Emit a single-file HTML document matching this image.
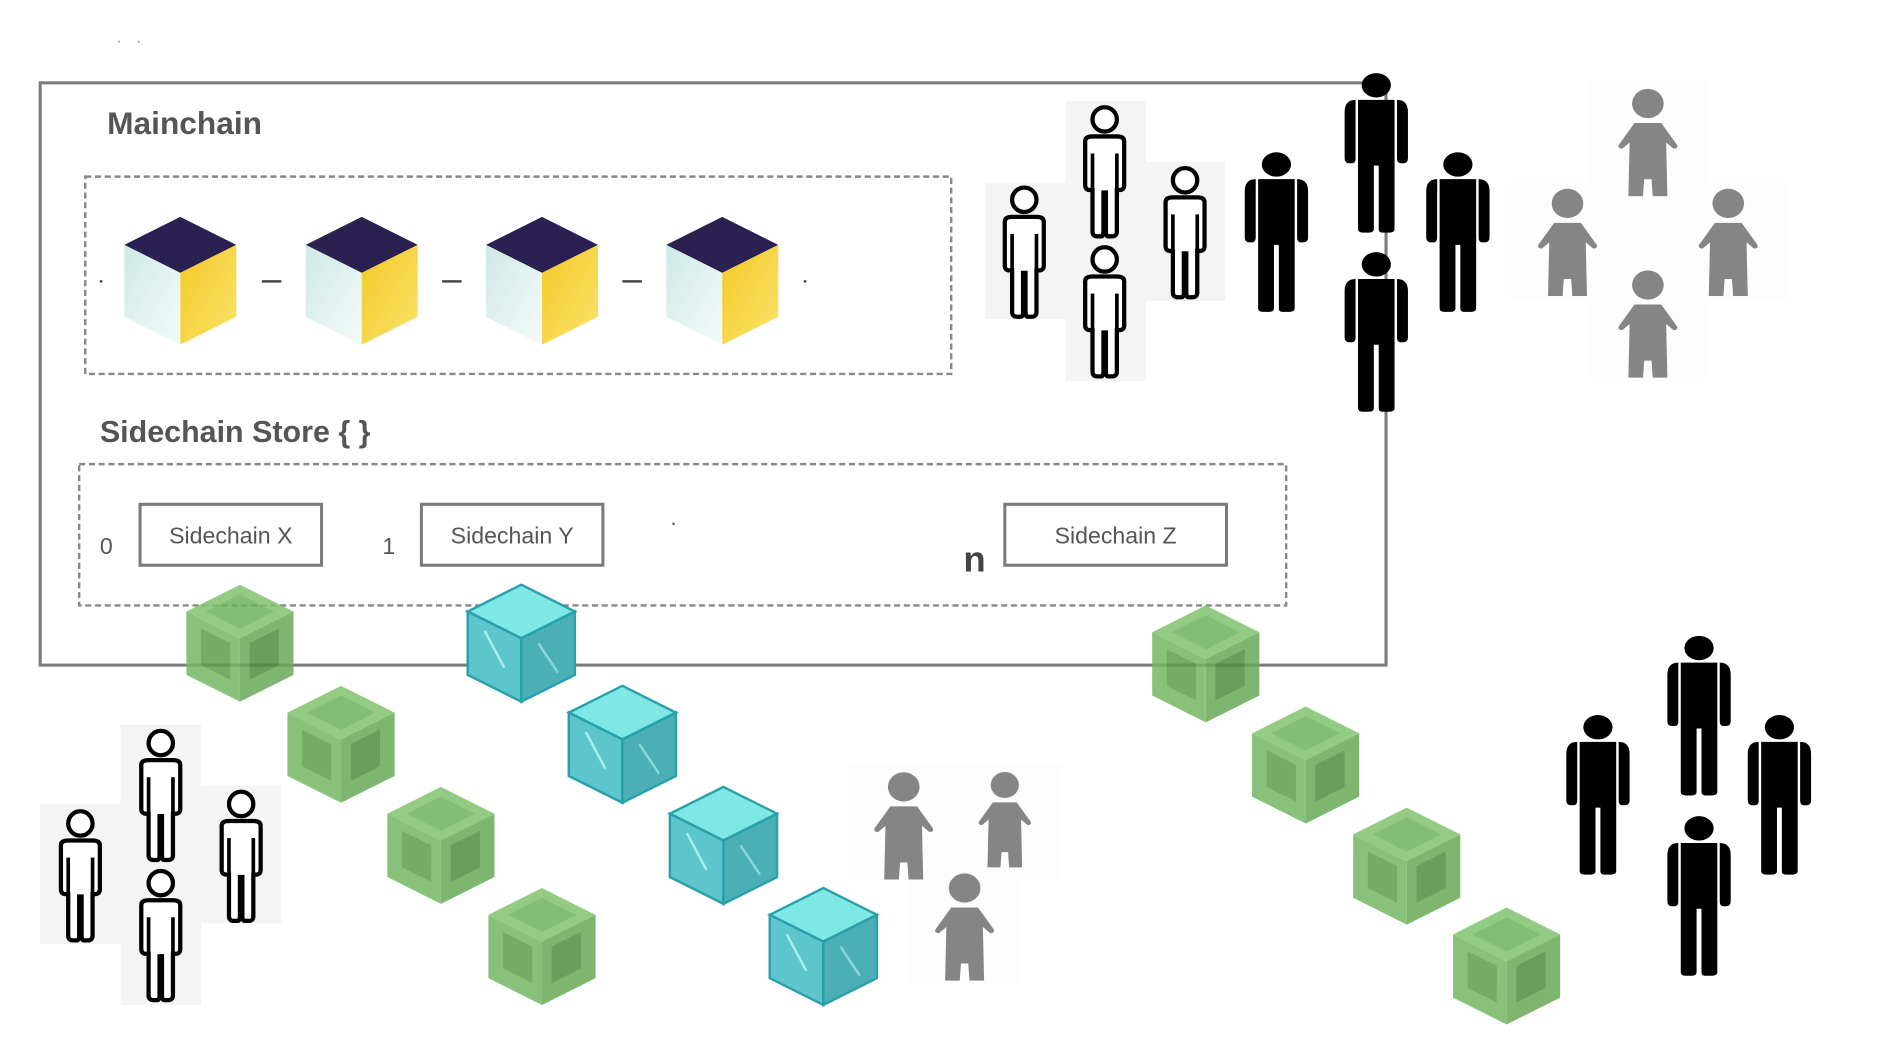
<!DOCTYPE html>
<html><head><meta charset="utf-8"><style>
html,body{margin:0;padding:0;background:#fff;width:1900px;height:1061px;overflow:hidden}
svg{display:block}
text{font-family:"Liberation Sans",sans-serif}
</style></head><body>
<svg width="1900" height="1061" viewBox="0 0 1560 871" preserveAspectRatio="none" xmlns="http://www.w3.org/2000/svg">
<defs>
<linearGradient id="mint" x1="0" y1="0" x2="1" y2="1"><stop offset="0" stop-color="#cfe9e6"/><stop offset="1" stop-color="#f4fbfa"/></linearGradient>
<linearGradient id="yel" x1="0" y1="0" x2="1" y2="1"><stop offset="0" stop-color="#f2c928"/><stop offset="1" stop-color="#fbe36a"/></linearGradient>
<symbol id="mcube" viewBox="-46 -52 92 105" overflow="visible">
<polygon points="0,-52 46,-29 0,-6 -46,-29" fill="#2b2150"/>
<polygon points="-46,-29 0,-6 0,53 -46,30" fill="url(#mint)"/>
<polygon points="46,-29 0,-6 0,53 46,30" fill="url(#yel)"/>
</symbol>
<symbol id="gcube" viewBox="-44 -48 88 96" overflow="visible">
<g opacity="0.85">
<polygon points="0,-48 44,-26 0,-4 -44,-26" fill="#80c46f"/>
<polygon points="0,-40 28,-26 0,-12 -28,-26" fill="#6db35c"/>
<polygon points="-44,-26 0,-4 0,48 -44,26" fill="#74b863"/>
<polygon points="-32,-12 -8,0 -8,30 -32,18" fill="#5d9e4c"/>
<polygon points="44,-26 0,-4 0,48 44,26" fill="#68a957"/>
<polygon points="32,-12 8,0 8,30 32,18" fill="#4f8f41"/>
</g>
</symbol>
<symbol id="dcube" viewBox="-44 -48 88 96" overflow="visible">
<polygon points="0,-48 44,-26 0,-4 -44,-26" fill="#7fe8e6" stroke="#2aa0a8" stroke-width="2"/>
<polygon points="-44,-26 0,-4 0,48 -44,26" fill="#5cc6cc" stroke="#2aa0a8" stroke-width="2"/>
<polygon points="44,-26 0,-4 0,48 44,26" fill="#4ab0b6" stroke="#2aa0a8" stroke-width="2"/>
<line x1="-30" y1="-10" x2="-14" y2="20" stroke="#a9eeee" stroke-width="2"/>
<line x1="14" y1="0" x2="30" y2="24" stroke="#8ad6da" stroke-width="2"/>
</symbol>
<symbol id="bman" viewBox="0 0 56 130" overflow="visible">
<ellipse cx="28" cy="10" rx="12" ry="10" fill="#000"/>
<path d="M13 22 L43 22 L43 128 Q43 131 38 131 L33 131 Q30 131 30 128 L30 76 L26 76 L26 128 Q26 131 22 131 L17 131 Q13 131 13 128 Z" fill="#000"/>
<path d="M11 22 Q2 22 2 32 L2 70 Q2 74 6 74 L8 74 Q11 74 11 70 Z" fill="#000"/>
<path d="M45 22 Q54 22 54 32 L54 70 Q54 74 50 74 L48 74 Q45 74 45 70 Z" fill="#000"/>
</symbol>
<symbol id="oman" viewBox="0 0 48 110" overflow="visible">
<circle cx="24" cy="12" r="10" fill="#fff" stroke="#000" stroke-width="3.5"/>
<path d="M8 30 Q8 26 14 26 L34 26 Q40 26 40 30 L40 66 Q40 70 36 70 L34 70 L34 104 Q34 108 30 108 L27 108 Q25 108 25 104 L25 72 L23 72 L23 104 Q23 108 21 108 L18 108 Q14 108 14 104 L14 70 L12 70 Q8 70 8 66 Z" fill="#fff" stroke="#000" stroke-width="3.5"/>
<line x1="14" y1="40" x2="14" y2="70" stroke="#000" stroke-width="3"/>
<line x1="34" y1="40" x2="34" y2="70" stroke="#000" stroke-width="3"/>
</symbol>
<symbol id="gman" viewBox="0 0 50 90" overflow="visible">
<ellipse cx="25" cy="14" rx="13" ry="12" fill="#858585"/>
<path d="M14 30 L36 30 L49 48 Q50 51 46 51 L40 46 L41 90 L29 90 L28 76 L22 76 L21 90 L9 90 L10 46 L4 51 Q0 51 1 48 Z" fill="#858585"/>
</symbol>
</defs>

<text x="96" y="35" font-size="14" fill="#999">.</text><text x="112" y="35" font-size="14" fill="#999">.</text>

<rect x="809" y="150" width="66" height="112" fill="#f4f4f4"/>
<rect x="875" y="83" width="66" height="230" fill="#f4f4f4"/>
<rect x="940" y="133" width="66" height="114" fill="#f4f4f4"/>
<rect x="33" y="660" width="66" height="115" fill="#f4f4f4"/>
<rect x="99" y="595" width="66" height="230" fill="#f4f4f4"/>
<rect x="165" y="645" width="66" height="113" fill="#f4f4f4"/>
<rect x="1240" y="150" width="228" height="96" fill="#fdfdfd"/>
<rect x="1305" y="66" width="98" height="244" fill="#fdfdfd"/>
<rect x="697" y="628" width="175" height="95" fill="#fdfdfd"/>
<rect x="745" y="715" width="92" height="92" fill="#fdfdfd"/>

<rect x="33" y="68" width="1105" height="478" fill="none" stroke="#7a7a7a" stroke-width="2.5"/>
<text x="88" y="110" font-size="26" font-weight="bold" fill="#555">Mainchain</text>
<rect x="70" y="145" width="711" height="162" fill="none" stroke="#888" stroke-width="2" stroke-dasharray="5,3"/>
<use href="#mcube" x="102" y="178" width="92" height="105"/>
<use href="#mcube" x="251" y="178" width="92" height="105"/>
<use href="#mcube" x="399" y="178" width="92" height="105"/>
<use href="#mcube" x="547" y="178" width="92" height="105"/>
<g fill="#444"><rect x="215" y="230" width="16" height="2"/><rect x="363" y="230" width="16" height="2"/><rect x="511" y="230" width="16" height="2"/><rect x="82" y="230" width="2" height="2"/><rect x="660" y="230" width="2" height="2"/></g>

<text x="82" y="363" font-size="25" font-weight="bold" fill="#555">Sidechain Store { }</text>
<rect x="65" y="381" width="991" height="116" fill="none" stroke="#888" stroke-width="2" stroke-dasharray="5,3"/>
<text x="82" y="455" font-size="19" fill="#555">0</text>
<rect x="115" y="414" width="149" height="50" fill="#fff" stroke="#7a7a7a" stroke-width="2.5"/>
<text x="189.5" y="446" font-size="19" fill="#555" text-anchor="middle">Sidechain X</text>
<text x="314" y="455" font-size="19" fill="#555">1</text>
<rect x="346" y="414" width="149" height="50" fill="#fff" stroke="#7a7a7a" stroke-width="2.5"/>
<text x="420.5" y="446" font-size="19" fill="#555" text-anchor="middle">Sidechain Y</text>
<rect x="552" y="429" width="2" height="2" fill="#666"/>
<text x="791" y="469" font-size="30" font-weight="bold" fill="#444">n</text>
<rect x="825" y="414" width="182" height="50" fill="#fff" stroke="#7a7a7a" stroke-width="2.5"/>
<text x="916" y="446" font-size="19" fill="#555" text-anchor="middle">Sidechain Z</text>

<use href="#gcube" x="153" y="480" width="88" height="96"/>
<use href="#gcube" x="236" y="563" width="88" height="96"/>
<use href="#gcube" x="318" y="646" width="88" height="96"/>
<use href="#gcube" x="401" y="729" width="88" height="96"/>
<use href="#dcube" x="384" y="480" width="88" height="96"/>
<use href="#dcube" x="467" y="563" width="88" height="96"/>
<use href="#dcube" x="550" y="646" width="88" height="96"/>
<use href="#dcube" x="632" y="729" width="88" height="96"/>
<use href="#gcube" x="946" y="497" width="88" height="96"/>
<use href="#gcube" x="1028" y="580" width="88" height="96"/>
<use href="#gcube" x="1111" y="663" width="88" height="96"/>
<use href="#gcube" x="1193" y="745" width="88" height="96"/>

<use href="#oman" x="817" y="152" width="48" height="110"/>
<use href="#oman" x="883" y="86" width="48" height="110"/>
<use href="#oman" x="883" y="201" width="48" height="110"/>
<use href="#oman" x="949" y="136" width="48" height="110"/>
<use href="#oman" x="42" y="664" width="48" height="110"/>
<use href="#oman" x="108" y="598" width="48" height="110"/>
<use href="#oman" x="174" y="648" width="48" height="110"/>
<use href="#oman" x="108" y="713" width="48" height="110"/>

<use href="#bman" x="1020" y="125" width="56" height="130"/>
<use href="#bman" x="1102" y="60" width="56" height="130"/>
<use href="#bman" x="1169" y="125" width="56" height="130"/>
<use href="#bman" x="1102" y="207" width="56" height="130"/>
<use href="#bman" x="1284" y="587" width="56" height="130"/>
<use href="#bman" x="1367" y="522" width="56" height="130"/>
<use href="#bman" x="1433" y="587" width="56" height="130"/>
<use href="#bman" x="1367" y="670" width="56" height="130"/>

<use href="#gman" x="1328" y="71" width="50" height="90"/>
<use href="#gman" x="1262" y="153" width="50" height="90"/>
<use href="#gman" x="1394" y="153" width="50" height="90"/>
<use href="#gman" x="1328" y="220" width="50" height="90"/>
<use href="#gman" x="717" y="632" width="50" height="90"/>
<use href="#gman" x="800" y="632" width="50" height="80"/>
<use href="#gman" x="767" y="715" width="50" height="90"/>
</svg>
</body></html>
